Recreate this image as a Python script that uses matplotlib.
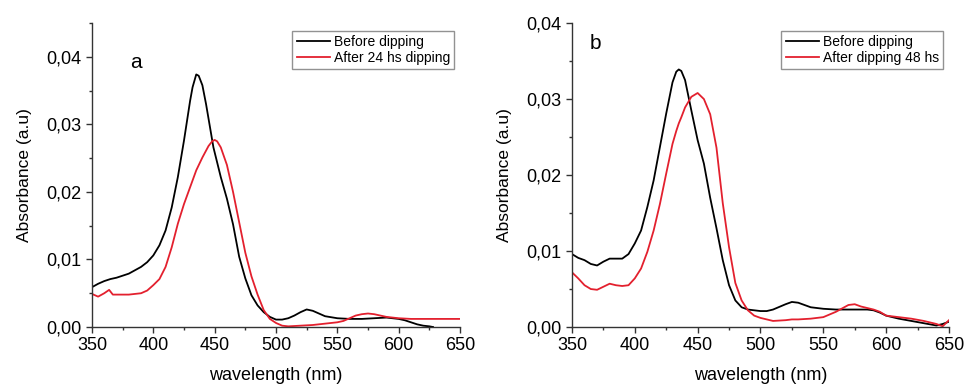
import numpy as np
import matplotlib
matplotlib.use("Agg")
import matplotlib.pyplot as plt
from matplotlib.ticker import MultipleLocator, FuncFormatter

plt.rcParams['font.family'] = ['Liberation Sans', 'DejaVu Sans']

# panel a
wl_a_before = [350, 355, 360, 365, 370, 375, 380, 385, 390, 395, 400, 405, 410, 415, 420, 425,
               430, 432, 435, 437, 440, 443, 446, 449, 455, 460, 465, 470, 475, 480, 485, 490,
               495, 500, 505, 510, 515, 520, 525, 530, 535, 540, 550, 560, 570, 580, 590, 600,
               605, 610, 615, 620, 625, 628]
abs_a_before = [0.0059, 0.0064, 0.0068, 0.0071, 0.0073, 0.0076, 0.0079, 0.0084, 0.0089, 0.0096,
                0.0106, 0.0121, 0.0143, 0.0177, 0.0222, 0.0276, 0.0335, 0.0355, 0.0374, 0.0372,
                0.0358, 0.0330, 0.0298, 0.0266, 0.0222, 0.0190, 0.0152, 0.0104, 0.0072, 0.0047,
                0.0032, 0.0022, 0.0015, 0.0011, 0.0011, 0.0013, 0.0017, 0.0022, 0.0026, 0.0024,
                0.0020, 0.0016, 0.0013, 0.0012, 0.0012, 0.0013, 0.0014, 0.0012, 0.0010, 0.0007,
                0.0004, 0.0002, 0.0001, 0.0]

wl_a_after = [350, 355, 360, 364, 367, 370, 375, 380, 385, 390, 395, 400, 405, 410, 415, 420, 425,
              430, 435, 440, 445, 448, 450, 452, 455, 460, 465, 470, 475, 480, 485, 490, 495, 500,
              505, 510, 520, 530, 540, 550, 555, 560, 565, 570, 575, 580, 590, 600, 610, 620, 630,
              640, 650]
abs_a_after = [0.0049, 0.0045, 0.0050, 0.0055, 0.0048, 0.0048, 0.0048, 0.0048, 0.0049, 0.0050,
               0.0054, 0.0062, 0.0071, 0.0089, 0.0118, 0.0153, 0.0182, 0.0207, 0.0232, 0.0251,
               0.0268, 0.0275, 0.0277, 0.0275, 0.0266, 0.0240, 0.0200, 0.0155, 0.0110, 0.0075,
               0.0048, 0.0025, 0.0012, 0.0006, 0.0002, 0.0001, 0.0002, 0.0003, 0.0005, 0.0007,
               0.0009, 0.0013, 0.0017, 0.0019, 0.0020, 0.0019, 0.0015, 0.0013, 0.0012, 0.0012,
               0.0012, 0.0012, 0.0012]

# panel b
wl_b = [350, 355, 360, 365, 370, 375, 380, 385, 390, 395, 400, 405, 410, 415, 420, 425, 430, 433,
        435, 437, 440, 445, 450, 455, 460, 465, 470, 475, 480, 485, 490, 495, 500, 505, 510, 520,
        525, 530, 540, 550, 560, 570, 575, 580, 585, 590, 595, 600, 610, 620, 630, 640, 645, 650]
abs_b_before = [0.0096, 0.0091, 0.0088, 0.0083, 0.0081, 0.0086, 0.0090, 0.0090, 0.0090, 0.0096,
                0.0110, 0.0127, 0.0158, 0.0193, 0.0237, 0.0281, 0.0322, 0.0336, 0.0339, 0.0337,
                0.0325, 0.0285, 0.0246, 0.0215, 0.0170, 0.0130, 0.0088, 0.0055, 0.0035, 0.0026,
                0.0023, 0.0022, 0.0021, 0.0021, 0.0023, 0.0030, 0.0033, 0.0032, 0.0026, 0.0024,
                0.0023, 0.0023, 0.0023, 0.0023, 0.0023, 0.0022, 0.0019, 0.0015, 0.0011, 0.0008,
                0.0005, 0.0002, 0.0004, 0.0007]
abs_b_after = [0.0072, 0.0064, 0.0055, 0.0050, 0.0049, 0.0053, 0.0057, 0.0055, 0.0054, 0.0055,
               0.0064, 0.0077, 0.0099, 0.0127, 0.0162, 0.0202, 0.0241, 0.0258, 0.0268, 0.0276,
               0.0289, 0.0303, 0.0308, 0.0300, 0.0280, 0.0236, 0.0163, 0.0105, 0.0058, 0.0035,
               0.0022, 0.0015, 0.0012, 0.0010, 0.0008, 0.0009, 0.0010, 0.0010, 0.0011, 0.0013,
               0.0020, 0.0029, 0.0030, 0.0027, 0.0025, 0.0023, 0.0020, 0.0015, 0.0013, 0.0011,
               0.0008, 0.0004, 0.0001, 0.0009]

RED = '#e3202e'
comma = FuncFormatter(lambda v, p: f"{v:.2f}".replace('.', ','))

fig = plt.figure(figsize=(9.65, 3.85), dpi=100)
ax_a = fig.add_axes([0.0953, 0.1506, 0.3814, 0.7894])
ax_b = fig.add_axes([0.5927, 0.1506, 0.3907, 0.7894])


def style(ax, ymax):
    ax.set_xlim(350, 650)
    ax.set_ylim(0, ymax)
    ax.spines['top'].set_visible(False)
    ax.spines['right'].set_visible(False)
    for s in ['left', 'bottom']:
        ax.spines[s].set_color('#333333')
        ax.spines[s].set_linewidth(1.0)
    ax.xaxis.set_major_locator(MultipleLocator(50))
    ax.xaxis.set_minor_locator(MultipleLocator(25))
    ax.yaxis.set_major_locator(MultipleLocator(0.01))
    ax.yaxis.set_minor_locator(MultipleLocator(0.005))
    ax.yaxis.set_major_formatter(comma)
    ax.tick_params(which='major', direction='out', length=4.5, width=1, labelsize=13, pad=3,
                   color='#333333')
    ax.tick_params(which='minor', direction='out', length=2.5, width=1, color='#333333')
    ax.set_xlabel('wavelength (nm)', fontsize=13, labelpad=9)
    ax.set_ylabel('Absorbance (a.u)', fontsize=12.5, labelpad=10)
    ax.legend(loc='upper right', bbox_to_anchor=(0.985, 0.975), fontsize=10, frameon=True,
              fancybox=False, edgecolor='#777777', handlelength=2.4, handletextpad=0.3,
              borderpad=0.3, labelspacing=0.15, borderaxespad=0)


ax_a.plot(wl_a_before, abs_a_before, color='black', lw=1.3, label='Before dipping')
ax_a.plot(wl_a_after, abs_a_after, color=RED, lw=1.3, label='After 24 hs dipping')
style(ax_a, 0.045)

ax_b.plot(wl_b, abs_b_before, color='black', lw=1.3, label='Before dipping')
ax_b.plot(wl_b, abs_b_after, color=RED, lw=1.3, label='After dipping 48 hs')
style(ax_b, 0.04)

fig.text(130 / 965, 1 - 68 / 385, 'a', fontsize=15)
fig.text(590 / 965, 1 - 49 / 385, 'b', fontsize=15)

fig.savefig('out.png', dpi=100)
